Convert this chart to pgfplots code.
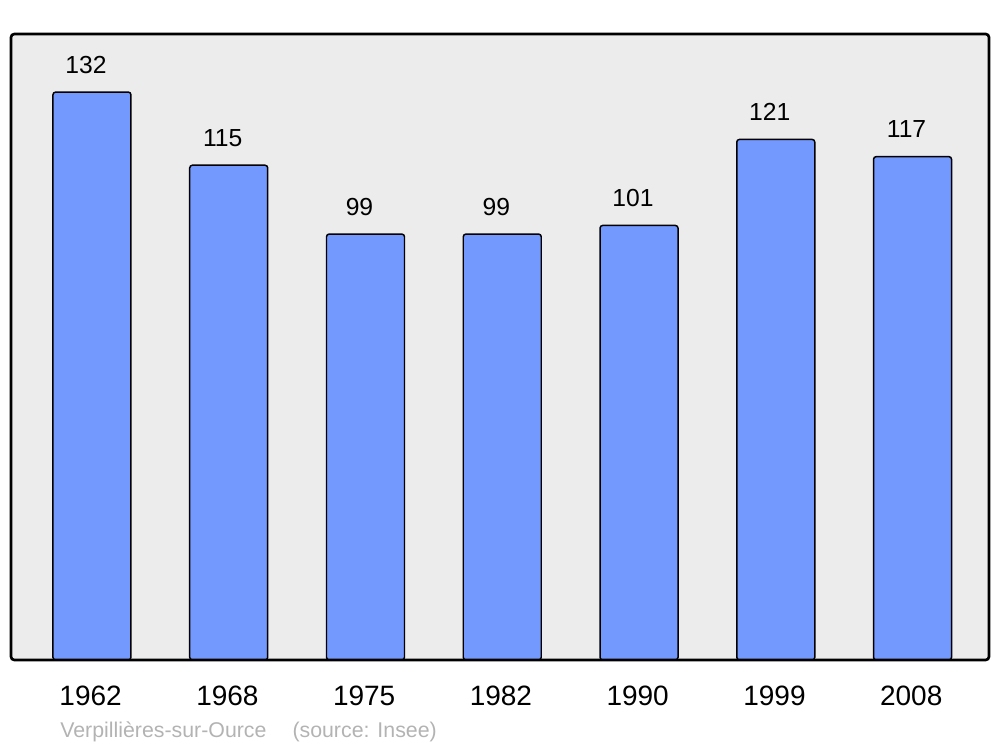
\documentclass[border=0pt]{standalone}
\usepackage{pgfplots}
\pgfplotsset{compat=1.18}
\usepackage{fontspec}
\setmainfont{Liberation Sans}
\definecolor{barblue}{HTML}{7399FF}
\definecolor{bggray}{HTML}{ECECEC}
\definecolor{srcgray}{HTML}{B3B3B3}
\begin{document}
\begin{tikzpicture}
\path[use as bounding box] (-8.25pt,-65.25pt) rectangle (741.75pt,495pt);
\begin{axis}[
  at={(0,0)}, anchor=south west,
  scale only axis, width=733.5pt, height=469.5pt,
  xmin=-0.592, xmax=6.559, ymin=0, ymax=145.5,
  axis line style={draw=none},
  axis background/.style={fill=bggray, rounded corners=2pt},
  xtick=data, xticklabels={1962,1968,1975,1982,1990,1999,2008},
  ytick=\empty, major tick length=0pt,
  xticklabel style={anchor=base, xshift=-1pt, yshift=-33.75pt, font=\fontsize{21}{23}\selectfont},
  /pgf/number format/assume math mode=true,
  ybar, bar width=58.5pt, bar shift=0pt,
  nodes near coords,
  every node near coord/.append style={anchor=base, inner sep=0pt, xshift=-4.5pt, yshift=14.25pt, font=\fontsize{18.5}{20}\selectfont, text=black},
  clip=false,
]
\addplot[fill=barblue, draw=black, line width=1.1pt, rounded corners=2pt] coordinates {
(0,132) (1,115) (2,99) (3,99) (4,101) (5,121) (6,117)};
\draw[line width=2pt, rounded corners=2.5pt] (rel axis cs:0,0) rectangle (rel axis cs:1,1);
\end{axis}
\node[anchor=base west, inner sep=0pt, text=srcgray, font=\fontsize{16}{18}\selectfont] at (36.75pt,-57.75pt) {Verpillières-sur-Ource\hspace{19.5pt}(source: Insee)};
\end{tikzpicture}
\end{document}
